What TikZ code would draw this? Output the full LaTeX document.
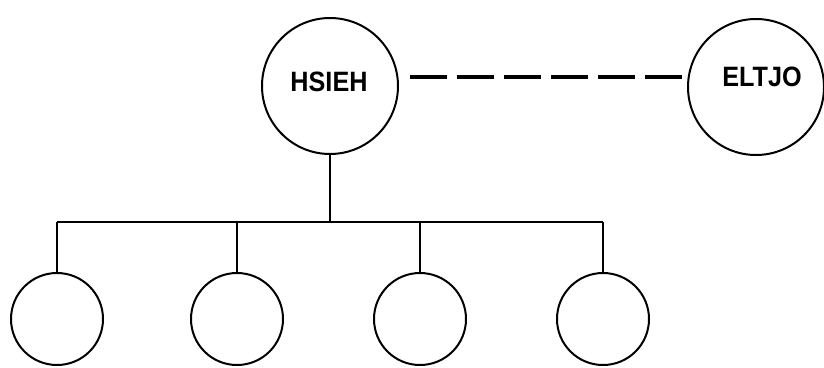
\documentclass[tikz,border=0pt]{standalone}
\usepackage{fontspec}
\setmainfont{Liberation Sans}
\newcommand{\narrowtxt}[1]{\scalebox{0.9}[1]{#1}}
\begin{document}
\begin{tikzpicture}[x=1pt,y=-1pt,
  bigc/.style={circle,draw,line width=2pt,minimum size=136pt,inner sep=0pt},
  smallc/.style={circle,draw,line width=2pt,minimum size=92pt,inner sep=0pt},
  lbl/.style={font=\fontsize{28}{32}\selectfont\bfseries,inner sep=0pt},
  conn/.style={line width=1.8pt},
  dashconn/.style={line width=4.5pt,dash pattern=on 37pt off 10pt}]
\useasboundingbox (0,0) rectangle (824,367);
\node[bigc] (h) at (330,86) {};
\node[bigc] (e) at (756,87) {};
\node[lbl] (ht) at (329,82) {\narrowtxt{HSIEH}};
\node[lbl] (et) at (762,77) {\narrowtxt{ELTJO}};
\node[smallc] (c1) at (57,319) {};
\node[smallc] (c2) at (237,319) {};
\node[smallc] (c3) at (420,319) {};
\node[smallc] (c4) at (603,319) {};
\coordinate (bj) at (330,222);
\coordinate (b1) at (57,222);
\coordinate (b2) at (237,222);
\coordinate (b3) at (420,222);
\coordinate (b4) at (603,222);
\coordinate (ds) at (410,77);
\coordinate (de) at (682,77);
\draw[dashconn] (ds) -- (de);
\draw[conn] (h.south) -- (bj);
\draw[conn] (b1) -- (b4);
\draw[conn] (b1) -- (c1.north);
\draw[conn] (b2) -- (c2.north);
\draw[conn] (b3) -- (c3.north);
\draw[conn] (b4) -- (c4.north);
\end{tikzpicture}
\end{document}
